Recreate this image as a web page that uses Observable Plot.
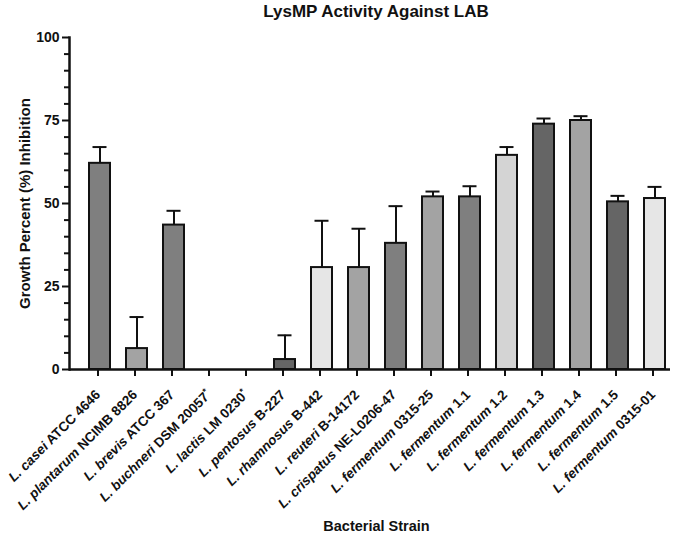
<!DOCTYPE html>
<html><head><meta charset="utf-8">
<script src="https://cdn.jsdelivr.net/npm/d3@7"></script>
<script src="https://cdn.jsdelivr.net/npm/@observablehq/plot@0.6"></script>
<style>
body{margin:0;background:#fff;font-family:"Liberation Sans",Arial,sans-serif;}
#title{height:24px;line-height:24px;font-size:17px;font-weight:bold;text-align:center;padding-left:67px;width:618px;color:#111;}
#chart svg{display:block;}
</style></head><body>
<div id="title"></div>
<div id="chart"></div>
<script>
const title = "LysMP Activity Against LAB";
const xLabel = "Bacterial Strain";
const yLabel = "Growth Percent (%) Inhibition";
const strains = [
  "L. casei ATCC 4646", "L. plantarum NCIMB 8826", "L. brevis ATCC 367",
  "L. buchneri DSM 20057*", "L. lactis LM 0230*", "L. pentosus B-227",
  "L. rhamnosus B-442", "L. reuteri B-14172", "L. crispatus NE-L0206-47",
  "L. fermentum 0315-25", "L. fermentum 1.1", "L. fermentum 1.2",
  "L. fermentum 1.3", "L. fermentum 1.4", "L. fermentum 1.5", "L. fermentum 0315-01"
];
const inhibition = [62.1, 6.3, 43.5, 0, 0, 3.0, 30.7, 30.7, 38.0, 52.0, 52.0, 64.5, 73.9, 75.0, 50.5, 51.5];
const errorUp =    [4.9, 9.5, 4.3, 0, 0, 7.3, 14.1, 11.7, 11.2, 1.6, 3.2, 2.5, 1.7, 1.3, 1.8, 3.5];
const yTicks = [0, 25, 50, 75, 100];
const yMinorTicks = [5, 10, 15, 20, 30, 35, 40, 45, 55, 60, 65, 70, 80, 85, 90, 95];
const fills = ["#7f7f7f", "#a3a3a3", "#7f7f7f", "#7f7f7f", "#7f7f7f", "#656565",
               "#e6e6e6", "#a3a3a3", "#7f7f7f", "#a3a3a3", "#7f7f7f", "#d4d4d4",
               "#656565", "#a3a3a3", "#656565", "#e6e6e6"];

document.getElementById("title").textContent = title;

const rows = strains.map((s, i) => ({strain: s, value: inhibition[i], err: errorUp[i]}));
const withErr = rows.filter(d => d.err > 0);

const svg = Plot.plot({
  width: 685,
  height: 510,
  marginTop: 13,
  marginBottom: 165,
  marginLeft: 69,
  marginRight: 15,
  style: {fontFamily: "'Liberation Sans', Arial, sans-serif", fontWeight: "bold", color: "#111", background: "#fff"},
  x: {domain: strains, paddingInner: 0.44, paddingOuter: 0.24, align: 0.8, label: null},
  y: {domain: [0, 100], label: null},
  color: {domain: strains, range: fills},
  marks: [
    Plot.barY(rows, {x: "strain", y: "value", fill: "strain", stroke: "#111", strokeWidth: 2}),
    Plot.ruleX(withErr, {x: "strain", y1: "value", y2: d => d.value + d.err, stroke: "#111", strokeWidth: 2}),
    Plot.tickY(withErr, {x: "strain", y: d => d.value + d.err, stroke: "#111", strokeWidth: 2, insetLeft: 3.5, insetRight: 3.5}),
    Plot.axisY({ticks: yTicks, tickSize: 7, tickPadding: 3, fontSize: 14, fontWeight: "bold", strokeWidth: 2, label: null}),
    Plot.axisY({ticks: yMinorTicks, tickSize: 5, tickFormat: () => "", strokeWidth: 2, label: null}),
    Plot.axisX({tickSize: 7, tickRotate: -45, tickPadding: 16, dx: -2, fontSize: 13.5, fontWeight: "bold", strokeWidth: 2, label: null}),
    Plot.frame({anchor: "left", stroke: "#111", strokeWidth: 2.5}),
    Plot.ruleY([0], {stroke: "#111", strokeWidth: 2.5}),
    Plot.text([yLabel], {frameAnchor: "left", textAnchor: "middle", rotate: -90, dx: -44, fontSize: 15, fontWeight: "bold", fill: "#111"}),
    Plot.text([xLabel], {frameAnchor: "bottom", dx: 6.5, dy: 161, fontSize: 14.5, fontWeight: "bold", fill: "#111"})
  ]
});

// italicise species names, superscript asterisks
svg.querySelectorAll('[aria-label="x-axis tick label"] text').forEach(t => {
  const label = t.textContent;
  const parts = label.split(" ");
  const species = parts.slice(0, 2).join(" ");
  let rest = " " + parts.slice(2).join(" ");
  let star = false;
  if (rest.endsWith("*")) { star = true; rest = rest.slice(0, -1); }
  while (t.firstChild) t.removeChild(t.firstChild);
  const ns = "http://www.w3.org/2000/svg";
  const a = document.createElementNS(ns, "tspan");
  a.setAttribute("font-style", "italic");
  a.textContent = species;
  t.appendChild(a);
  const b = document.createElementNS(ns, "tspan");
  b.textContent = rest;
  t.appendChild(b);
  if (star) {
    const c = document.createElementNS(ns, "tspan");
    c.setAttribute("font-size", "9");
    c.setAttribute("dy", "-5");
    c.textContent = "*";
    t.appendChild(c);
  }
});

document.getElementById("chart").appendChild(svg);
</script>
</body></html>
